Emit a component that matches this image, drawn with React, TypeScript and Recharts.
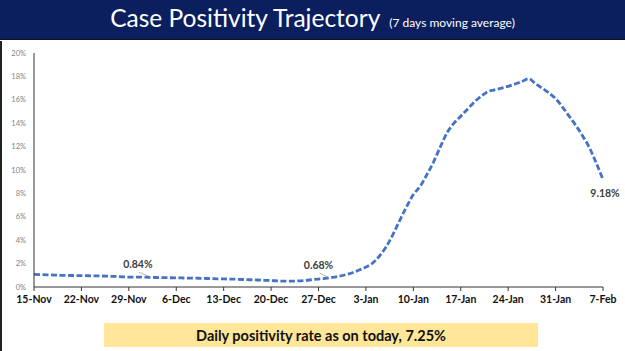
import React from "react"
import { LineChart, Line, XAxis, YAxis } from "recharts"

// 7-day moving average of case positivity (%), one value per day from 15-Nov to 7-Feb
const positivity = [
  1.08, 1.06, 1.04, 1.02, 1.0, 0.99, 0.98, 0.97, 0.96, 0.95, 0.94, 0.92, 0.9, 0.87,
  0.84, 0.85, 0.84, 0.83, 0.81, 0.8, 0.79, 0.78, 0.77, 0.76, 0.75, 0.74, 0.72, 0.7,
  0.69, 0.68, 0.66, 0.64, 0.62, 0.6, 0.57, 0.55, 0.52, 0.5, 0.5, 0.52, 0.56, 0.62,
  0.68, 0.74, 0.82, 0.92, 1.05, 1.22, 1.45, 1.7, 2.05, 2.65, 3.45, 4.5, 5.7, 6.85,
  7.9, 8.6, 9.6, 10.7, 12.0, 13.2, 14.0, 14.6, 15.2, 15.8, 16.3, 16.7, 16.85, 17.0,
  17.15, 17.35, 17.55, 17.8, 17.4, 17.0, 16.6, 16.1, 15.4, 14.6, 13.8, 12.9, 11.9,
  10.6, 9.18,
]

const weekLabels = [
  "15-Nov", "22-Nov", "29-Nov", "6-Dec", "13-Dec", "20-Dec", "27-Dec",
  "3-Jan", "10-Jan", "17-Jan", "24-Jan", "31-Jan", "7-Feb",
]

const yTicks = [0, 2, 4, 6, 8, 10, 12, 14, 16, 18, 20]

// days whose value is written on the chart
const labelledDays = [14, 42, 84]

const data = positivity.map((rate, day) => ({ day, rate }))
const weekTicks = weekLabels.map((_, i) => i * 7)

// where each callout sits relative to its point (dx, dy)
const labelShift: Record<number, [number, number]> = {
  14: [9, -9],
  42: [0, -10],
  84: [2, 17],
}

const PointLabel = (props: any) => {
  const { x, y, value, index } = props
  if (!labelledDays.includes(index)) return null
  const [dx, dy] = labelShift[index]
  const text = `${Number(value).toFixed(2)}%`
  const leader = index !== positivity.length - 1
  return (
    <g>
      {leader && (
        <line x1={x + dx + 1} y1={y + dy + 4} x2={x + dx + 11} y2={y - 1} stroke="#a6a6a6" strokeWidth={0.8} />
      )}
      <text x={x + dx} y={y + dy} textAnchor="middle" fontSize={10.5} fontWeight={700} fill="#404040" fontFamily="Lato">
        {text}
      </text>
    </g>
  )
}

export default function App() {
  return (
    <div
      style={{
        position: "absolute",
        left: 0,
        top: 0,
        width: 625,
        height: 351,
        background: "#fff",
        overflow: "hidden",
        fontFamily: "Lato, sans-serif",
      }}
    >
      <div style={{ position: "absolute", left: 0, top: 41, width: 2, height: 310, background: "#222" }} />
      <div
        style={{
          position: "absolute",
          left: 0,
          top: 0,
          width: 625,
          height: 40,
          background: "#0b1f5f",
          borderBottom: "1px solid #111",
          display: "flex",
          justifyContent: "center",
          alignItems: "baseline",
          gap: 9,
          color: "#fff",
          paddingTop: 3,
          boxSizing: "border-box",
        }}
      >
        <span style={{ fontSize: 24.5 }}>Case Positivity Trajectory</span>
        <span style={{ fontSize: 12 }}>(7 days moving average)</span>
      </div>

      <div style={{ position: "absolute", left: 0, top: 0 }}>
        <LineChart width={625} height={351} data={data} margin={{ top: 53, right: 22, bottom: 34, left: 0 }}>
          <XAxis
            dataKey="day"
            type="number"
            domain={[0, 84]}
            ticks={weekTicks}
            tickFormatter={(d: number) => weekLabels[d / 7]}
            interval={0}
            height={30}
            tickSize={4}
            tickMargin={5}
            stroke="#333"
            tick={{ fontSize: 10.5, fontWeight: 700, fill: "#111", fontFamily: "Lato" }}
          />
          <YAxis
            type="number"
            domain={[0, 20]}
            ticks={yTicks}
            tickFormatter={(v: number) => `${v}%`}
            width={34}
            tickLine={false}
            stroke="#333"
            tick={{ fontSize: 7.5, fill: "#7f7f7f", fontFamily: "Lato" }}
          />
          <Line
            dataKey="rate"
            type="monotone"
            stroke="#4472c4"
            strokeWidth={2.8}
            strokeDasharray="6 2.5"
            dot={false}
            isAnimationActive={false}
            label={<PointLabel />}
          />
        </LineChart>
      </div>

      <div
        style={{
          position: "absolute",
          left: 104,
          top: 323,
          width: 434,
          height: 24,
          background: "#ffe699",
          display: "flex",
          alignItems: "center",
          justifyContent: "center",
          fontSize: 14.5,
          fontWeight: 700,
          color: "#111",
        }}
      >
        Daily positivity rate as on today, 7.25%
      </div>
    </div>
  )
}
